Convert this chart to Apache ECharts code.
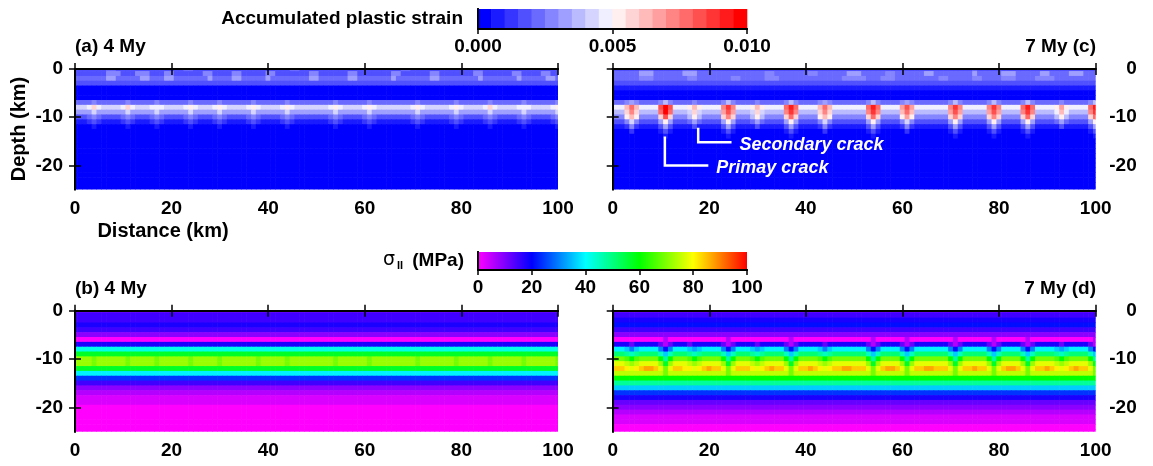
<!DOCTYPE html>
<html><head><meta charset="utf-8">
<script src="https://cdn.jsdelivr.net/npm/echarts@6/dist/echarts.min.js"></script>
<style>html,body{margin:0;padding:0;background:#fff}#c{width:1153px;height:466px}</style>
</head><body><div id="c"></div>
<script>
// ================= DATA =================
const distanceTicks = [0, 20, 40, 60, 80, 100];
const depthTicks = [-20, -10, 0];
const strainTicks = [0, 0.005, 0.010];
const stressTicks = [0, 20, 40, 60, 80, 100];
const strainStep = 0.0005;            // one colour level of the strain scale
const stressStep = 3;                 // MPa per code unit (base-36 code)
const strainColors = ['#0000ff','#1b1bff','#3535ff','#5050ff','#6a6aff','#8585ff','#9f9fff','#babaff','#d4d4ff','#efefff',
                      '#ffefef','#ffd4d4','#ffbaba','#ff9f9f','#ff8585','#ff6a6a','#ff5050','#ff3535','#ff1b1b','#ff0000'];
const stressCpt = [[0,'#ff00ff'],[20,'#0000ff'],[40,'#00ffff'],[60,'#00ff00'],[80,'#ffff00'],[100,'#ff0000']];

// Rows = depth 0..25 km (1 km cells), columns = distance 0..100 km (1 km cells).
// Strain: code c (0-9,a-j) -> (c+0.5)*0.0005 ; one char = uniform row.
const strain4My = [
 "3333333443 3333333333 3334433333 3333333333 3333344333 3333333333 3333333344 3333333333 3334433333 3333333333 3",
 "3333333555 3335553335 5333333553 3335533333 5533333335 5333333553 3333335533 3333553333 3335533333 3553333553 3",
 "4444444664 4444664446 6444444464 4446644444 6444444446 6444444664 4444446444 4444664444 4444644444 4464444466 4",
 "3","0","0","0",
 "4444544444 4544444544 4444544444 5444444544 4444544444 4444544444 4544444444 4544444445 4444445444 4445444444 5",
 "8889b98888 9b98889998 8889a98889 a988889a98 8889a98888 8889a98888 9a98888888 9a9888889a 988889b988 8899988889 a",
 "6666866666 6866666866 6666866666 8666666866 6666866666 6666866666 6866666666 6866666668 6666668666 6668666666 8",
 "3334543333 4543334543 3334543334 5433334543 3334543333 3334543333 4543333333 4543333345 4333345433 3345433334 5",
 "1112321111 2321112321 1112321112 3211112321 1112321111 1112321111 2321111111 2321111123 2111123211 1123211112 3",
 "0000100000 0100000100 0000100000 1000000100 0000100000 0000100000 0100000000 0100000001 0000001000 0001000000 1",
 "0","0","0","0","0","0","0","0","0","0","0","0","0"
];
const strain7My = [
 "3333334443 3333344433 3333333333 3333333333 3333333333 3333333333 3333333333 3333343333 3333333333 3333333333 3",
 "4444446664 4444466644 4444444444 4455444444 4554444446 6644444554 4444466444 4444464444 4666444446 6444466644 4",
 "4444445554 4444445544 4444455444 4455544444 4444444455 5554445554 4444444455 4444455444 4555444455 5544444444 4",
 "3","1","0","0",
 "4445654444 5754444544 4445754444 5444445754 4445654444 4445754444 5654444444 5754444457 5444457544 4445444445 7",
 "999cfc9999 gjg999aca9 999ehe999a ca9999fif9 999cfc9999 999fif9999 dgd9999999 ehe99999eh e9999fif99 99ada9999f i",
 "777beb7777 fjf7778b87 777dgd7778 b87777ehe7 777beb7777 777ehe7777 cfc7777777 dgd77777dg d7777ehe77 779c97777e h",
 "555aca5555 bgb5557a75 555beb5557 a75555bfb5 555aca5555 555bfb5555 ada5555555 beb55555be b5555bfb55 557a75555b f",
 "3335853333 6a63334643 3336a63334 6433336a63 3335853333 3336a63333 5853333333 6a6333336a 633336a633 3346433336 a",
 "1112521111 3631111311 1113631111 3111113631 1112521111 1113631111 2521111111 3631111136 3111136311 1113111113 6",
 "0000200000 1310000000 0001310000 0000001310 0000200000 0001310000 0200000000 1310000013 1000013100 0000000001 3",
 "0000000000 0100000000 0000100000 0000000100 0000000000 0000100000 0000000000 0100000001 0000001000 0000000000 1",
 "0","0","0","0","0","0","0","0","0","0","0"
];
// Stress: code c (base 36) -> c*3 MPa
const stress4My = [
 "4","5","5","6","5","3","0","6","e","j",
 "oooonooooo onooooonoo oooonooooo nooooooono oooonooooo oooonooooo onoooooooo onooooooon oooooonooo ooonoooooo n",
 "oooonooooo onooooonoo oooonooooo nooooooono oooonooooo oooonooooo onoooooooo onooooooon oooooonooo ooonoooooo n",
 "j","d","8","5","3","2","1","1","0","0","0","0","0","0"
];
const stress7My = [
 "4","5","6","7","5","3",
 "0000000000 0200000000 0000200000 0000000200 0000000000 0000200000 0200000000 0200000002 0000002000 0000000000 2",
 "6666466666 4246664666 6664246666 4666664246 6666466666 6664246666 4246666666 4246666642 4666642466 6664666664 2",
 "dddcacdddd a7adddcbcd ddda7adddc bcdddda7ad dddcacdddd ddda7adddd a7addddddd a7addddda7 adddda7add ddcbcdddda 7",
 "hhhgfghhhh fcfhhhgfgh hhhfcfhhhg fghhhhfcfh hhhgfghhhh hhhfcfhhhh fcfhhhhhhh fcfhhhhhfc fhhhhfcfhh hhgfghhhhf c",
 "nnnmkmnnnn kgknnnmkmn nnnkgknnnm kmnnnnkgkn nnnmkmnnnn nnnkgknnnn kgknnnnnnn kgknnnnnkg knnnnkgknn nnmkmnnnnk g",
 "qqqpopqqqq ojoqqqpopq qqqojoqqqp opqqqqojoq qqqpopqqqq qqqojoqqqq ojoqqqqqqq ojoqqqqqoj oqqqqojoqq qqpopqqqqo j",
 "sssrqrstts qnqssrrqrs tssqnqsssr qrstssqnqs stsrqrsstt sssqnqstts qnqssttsss qnqsstssqn qsttsqnqss tsrqrstssq n",
 "pppppppppp pnpppppppp ppppnppppp pppppppnpp pppppppppp ppppnppppp pnpppppppp pnpppppppn ppppppnppp pppppppppp n",
 "k","g","c","8","6","4","3","2","1","1","0","0"
];
// Crack annotations in panel (c): leader x, leader top, corner depth, leader end x
const crackText = ['Secondary crack', 'Primay crack'];
const crackX = [17.7, 10.8];
const crackTop = [-12.2, -14.0];
const crackBottom = [-15.2, -20.0];
const crackEnd = [24.6, 19.8];

// ================= BUILD =================
const FONT = '"Liberation Sans", Arial, Helvetica, sans-serif';
function decode(rows, conv) {
  const out = [];
  rows.forEach((r, d) => {
    let s = r.replace(/\s+/g, '');
    if (s.length === 1) s = s.repeat(101);
    for (let k = 0; k < s.length; k++) out.push([k, -d, conv(parseInt(s[k], 36))]);
  });
  return out;
}
const strainVal = c => (c + 0.5) * strainStep;
const stressVal = c => Math.min(100, c * stressStep);
function strainColor(v) { return strainColors[Math.max(0, Math.min(19, Math.floor(v / strainStep)))]; }
function hex(c) { return [1,3,5].map(i => parseInt(c.substr(i,2),16)); }
function stressColor(v) {
  for (let i = 0; i < stressCpt.length - 1; i++) {
    const [a, ca] = stressCpt[i], [b, cb] = stressCpt[i+1];
    if (v <= b || i === stressCpt.length - 2) {
      const t = Math.max(0, Math.min(1, (v - a) / (b - a)));
      const A = hex(ca), B = hex(cb);
      return 'rgb(' + A.map((x, j) => Math.round(x + (B[j] - x) * t)).join(',') + ')';
    }
  }
}
function cellRenderer(colorFn) {
  return function (params, api) {
    const x = api.value(0), y = api.value(1), v = api.value(2);
    const p0 = api.coord([x - 0.5, y + 0.5]);
    const p1 = api.coord([x + 0.5, y - 0.5]);
    const cs = params.coordSys;
    const r = echarts.graphic.clipRectByRect(
      { x: p0[0] - 0.3, y: p0[1] - 0.3, width: p1[0] - p0[0] + 0.6, height: p1[1] - p0[1] + 0.6 },
      { x: cs.x, y: cs.y, width: cs.width, height: cs.height });
    return r && { type: 'rect', shape: r, style: { fill: colorFn(v) } };
  };
}
const tickFont = { fontFamily: FONT, fontWeight: 'bold', fontSize: 19, color: '#000' };
const lineStyle = { color: '#000', width: 2 };
function xAxes(g, labeled) {
  return [
    { gridIndex: g, type: 'value', min: 0, max: 100, interval: 20, position: 'bottom', z: 5,
      axisLine: { show: true, lineStyle }, axisTick: { show: true, length: 6, lineStyle: { color: '#000', width: 1.5 } },
      axisLabel: Object.assign({ show: labeled, margin: 10 }, tickFont), splitLine: { show: false } },
    { gridIndex: g, type: 'value', min: 0, max: 100, interval: 20, position: 'top', z: 5,
      axisLine: { show: true, lineStyle }, axisTick: { show: true, length: 6, lineStyle: { color: '#000', width: 1.5 } },
      axisLabel: { show: false }, splitLine: { show: false } }
  ];
}
function yAxes(g, labelSide) {
  const mk = (pos) => ({
    gridIndex: g, type: 'value', min: -25, max: 0, position: pos, z: 5,
    axisLine: { show: true, lineStyle },
    axisTick: { show: true, length: 6, customValues: depthTicks, lineStyle: { color: '#000', width: 1.5 } },
    axisLabel: Object.assign({ show: labelSide === pos, customValues: depthTicks, margin: pos === 'left' ? 12 : 41,
      align: 'right' }, tickFont),
    splitLine: { show: false }
  });
  return [mk('left'), mk('right')];
}
const grids = [
  { left: 75, top: 69, width: 483, height: 120.5 },
  { left: 612.7, top: 69, width: 483, height: 120.5 },
  { left: 75, top: 310.7, width: 483, height: 121 },
  { left: 612.7, top: 310.7, width: 483, height: 121 },
  { left: 478, top: 9, width: 269, height: 20 },
  { left: 478, top: 252, width: 269, height: 18 }
].map(g => Object.assign({ containLabel: false, outerBoundsMode: 'none' }, g));

let xAxis = [].concat(xAxes(0, true), xAxes(1, true), xAxes(2, true), xAxes(3, true));
let yAxis = [].concat(yAxes(0, 'left'), yAxes(1, 'right'), yAxes(2, 'left'), yAxes(3, 'right'));
function cbAxes(g, min, max, ticks, fmt) {
  const xa = [
    { gridIndex: g, type: 'value', min, max, position: 'bottom', z: 5, axisLine: { show: true, lineStyle },
      axisTick: { show: true, length: 5, customValues: ticks, lineStyle: { color: '#000', width: 1.5 } },
      axisLabel: Object.assign({ show: true, margin: 8, customValues: ticks, formatter: fmt }, tickFont), splitLine: { show: false } },
    { gridIndex: g, type: 'value', min, max, position: 'top', z: 5, axisLine: { show: true, lineStyle },
      axisTick: { show: false }, axisLabel: { show: false }, splitLine: { show: false } }
  ];
  const ya = ['left', 'right'].map(pos => ({ gridIndex: g, type: 'value', min: 0, max: 1, position: pos, z: 5,
      axisLine: { show: true, lineStyle }, axisTick: { show: false }, axisLabel: { show: false }, splitLine: { show: false } }));
  return [xa, ya];
}
const cb1 = cbAxes(4, 0, 0.01, strainTicks, v => v.toFixed(3));
const cb2 = cbAxes(5, 0, 100, stressTicks, v => String(v));
xAxis = xAxis.concat(cb1[0], cb2[0]);
yAxis = yAxis.concat(cb1[1], cb2[1]);

const panels = [
  { g: 0, data: decode(strain4My, strainVal), color: strainColor },
  { g: 1, data: decode(strain7My, strainVal), color: strainColor },
  { g: 2, data: decode(stress4My, stressVal), color: stressColor },
  { g: 3, data: decode(stress7My, stressVal), color: stressColor }
];
const series = panels.map(p => ({
  type: 'custom', xAxisIndex: 2 * p.g, yAxisIndex: 2 * p.g, data: p.data, renderItem: cellRenderer(p.color),
  silent: true, animation: false, progressive: 0, z: 2
}));
series.push({
  type: 'custom', xAxisIndex: 8, yAxisIndex: 8, silent: true, animation: false,
  data: strainColors.map((c, i) => [i * strainStep, (i + 1) * strainStep]),
  renderItem: (params, api) => {
    const p0 = api.coord([api.value(0), 1]), p1 = api.coord([api.value(1), 0]);
    return { type: 'rect', shape: { x: p0[0] - 0.3, y: p0[1], width: p1[0] - p0[0] + 0.6, height: p1[1] - p0[1] },
      style: { fill: strainColors[params.dataIndex] } };
  }
});
series.push({
  type: 'custom', xAxisIndex: 10, yAxisIndex: 10, silent: true, animation: false,
  data: [[stressTicks[0], stressTicks[stressTicks.length - 1]]],
  renderItem: (params, api) => {
    const p0 = api.coord([api.value(0), 1]), p1 = api.coord([api.value(1), 0]);
    const stops = stressCpt.map(s => ({ offset: s[0] / 100, color: s[1] }));
    return { type: 'rect', shape: { x: p0[0], y: p0[1], width: p1[0] - p0[0], height: p1[1] - p0[1] },
      style: { fill: new echarts.graphic.LinearGradient(0, 0, 1, 0, stops) } };
  }
});
series.push({
  type: 'custom', xAxisIndex: 2, yAxisIndex: 2, silent: true, animation: false, z: 4,
  data: crackText.map((t, i) => [crackX[i], crackTop[i], crackBottom[i], crackEnd[i]]),
  renderItem: (params, api) => {
    const a = api.coord([api.value(0), api.value(1)]);
    const b = api.coord([api.value(0), api.value(2)]);
    const c = api.coord([api.value(3), api.value(2)]);
    return { type: 'group', children: [
      { type: 'polyline', shape: { points: [a, b, c] }, style: { stroke: '#fff', lineWidth: 2.5, fill: null } },
      { type: 'text', x: c[0] + 8, y: c[1] + 2.5, style: { text: crackText[params.dataIndex], fill: '#fff',
        font: 'italic bold 18px ' + FONT, align: 'left', verticalAlign: 'middle' } }
    ] };
  }
});

const txt = (text, x, y, align, extra, size) => Object.assign({ type: 'text', x, y, silent: true,
  style: { text, font: 'bold ' + (size || 19) + 'px ' + FONT, fill: '#000', align, verticalAlign: 'middle' } }, extra || {});
const graphic = [
  txt('Accumulated plastic strain', 463, 19, 'right'),
  txt('(MPa)', 464, 261, 'right'),
  Object.assign(txt('II', 403, 266, 'right'), { style: { text: 'II', font: 'bold 11px ' + FONT, fill: '#000', align: 'right', verticalAlign: 'middle' } }),
  Object.assign(txt('σ', 395, 260, 'right'), { style: { text: 'σ', font: '19px "DejaVu Sans", sans-serif', fill: '#000', align: 'right', verticalAlign: 'middle' } }),
  txt('(a) 4 My', 75, 47, 'left'),
  txt('7 My (c)', 1096, 47, 'right'),
  txt('(b) 4 My', 75, 289, 'left'),
  txt('7 My (d)', 1096, 289, 'right'),
  txt('Distance (km)', 163, 231, 'center', null, 20),
  txt('Depth (km)', 19, 129, 'center', { rotation: Math.PI / 2 }, 20)
];

const chart = echarts.init(document.getElementById('c'), null, { renderer: 'canvas' });
chart.setOption({ animation: false, grid: grids, xAxis, yAxis, series, graphic });
</script></body></html>
